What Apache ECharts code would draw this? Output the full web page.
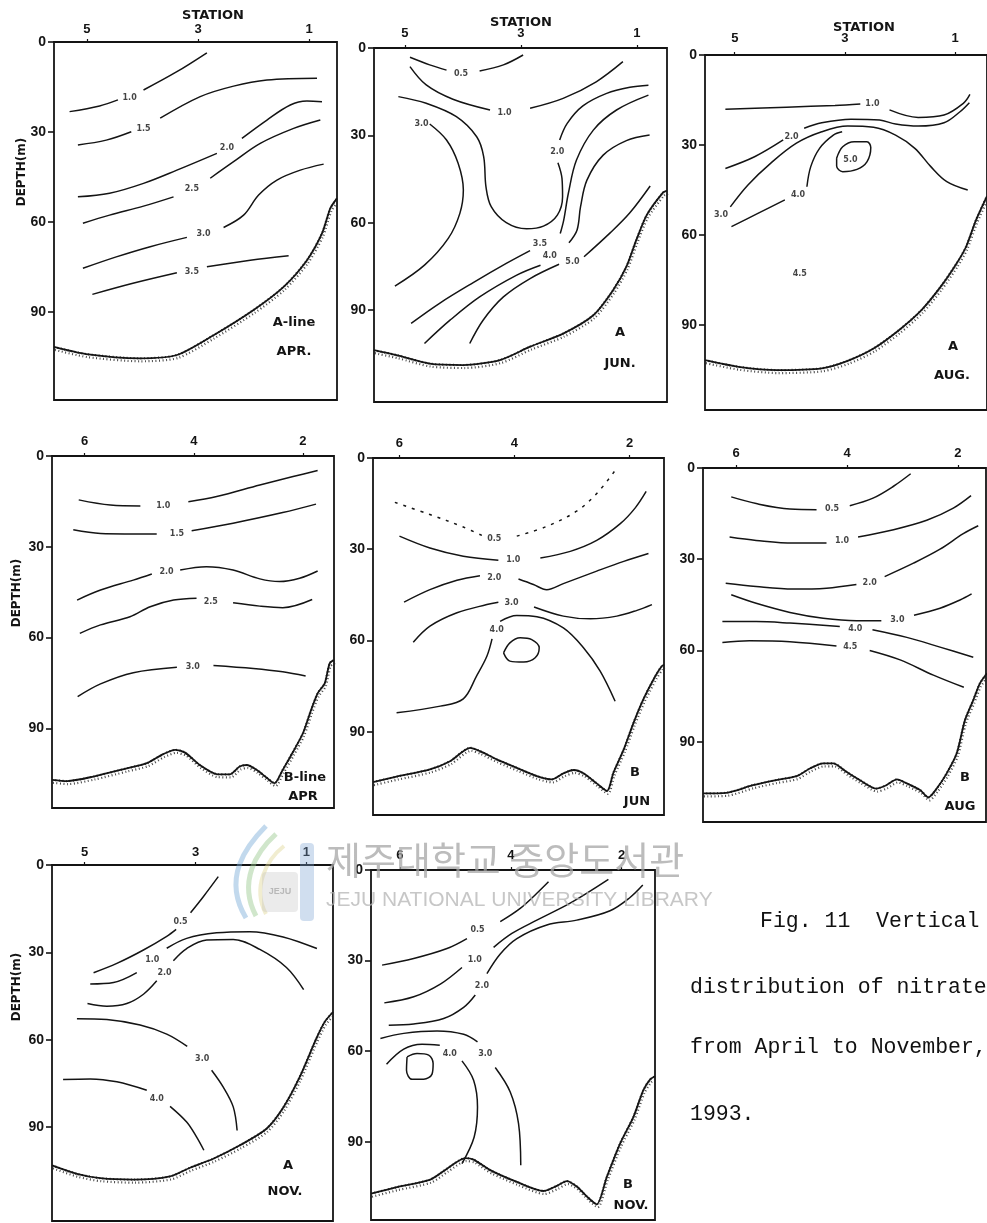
<!DOCTYPE html>
<html>
<head>
<meta charset="utf-8">
<script src="https://cdn.jsdelivr.net/npm/echarts@6/dist/echarts.min.js"></script>
<style>
  html, body { margin: 0; padding: 0; background: #fff; }
  #chart { width: 987px; height: 1223px; }
</style>
</head>
<body>
<div id="chart"></div>
<script>
// Tick positions: stations along the top edge, depth (m) down the left edge
const stationsA = [5, 3, 1];
const stationsB = [6, 4, 2];
const depthTicks = [0, 30, 60, 90];

// Nitrate isolines for each section: value, where its label sits [station, depth],
// and the pieces of the line on either side of that label.
const aApr = [
  { v: '1.0', at: [4.23, 18.8], segs: [[[5.31,23.2],[4.77,21.3],[4.44,19.3]], [[3.98,16.0],[3.38,9.9],[2.84,3.6]]] },
  { v: '1.5', at: [3.98, 28.8], segs: [[[5.16,34.3],[4.65,32.7],[4.20,29.9]], [[3.68,25.4],[2.96,18.2],[2.36,14.7],[1.76,12.7],[0.86,12.1]]] },
  { v: '2.0', at: [2.48, 35.4], segs: [[[5.16,51.6],[4.59,50.4],[3.98,47.1],[3.38,42.7],[2.66,37.1]], [[2.21,32.1],[1.76,26.0],[1.34,21.0],[1.04,19.7],[0.77,19.9]]] },
  { v: '2.5', at: [3.11, 48.8], segs: [[[5.07,60.4],[4.59,57.7],[3.98,54.7],[3.44,51.6]], [[2.78,45.4],[2.36,39.9],[1.88,33.8],[1.28,28.8],[0.80,26.0]]] },
  { v: '3.0', at: [2.90, 63.8], segs: [[[5.07,75.4],[4.47,71.6],[3.86,68.2],[3.20,65.1]], [[2.54,61.8],[2.18,57.7],[1.91,51.0],[1.58,46.0],[1.16,42.7],[0.74,40.7]]] },
  { v: '3.5', at: [3.11, 76.6], segs: [[[4.90,84.1],[4.17,80.4],[3.38,76.9]], [[2.84,74.9],[2.06,72.7],[1.37,71.2]]] }
];
const aAprBottom = [[5.59,101.6],[5.01,104.0],[4.05,105.4],[3.38,104.3],[2.72,97.7],[2.00,89.3],[1.46,81.6],[1.04,72.7],[0.77,63.8],[0.62,55.4],[0.50,52.1]];

const aJun = [
  { v: '0.5', at: [4.03, 8.9], segs: [[[4.91,3.2],[4.57,5.8],[4.28,7.6]], [[3.71,7.9],[3.30,5.8],[2.96,2.4]]] },
  { v: '1.0', at: [3.28, 22.2], segs: [[[4.91,6.4],[4.63,12.7],[4.17,17.6],[3.53,21.3]], [[2.84,20.7],[2.27,17.3],[1.70,11.6],[1.24,4.7]]] },
  { v: '2.0', at: [2.37, 35.6], segs: [[[5.11,16.7],[4.63,19.0],[4.11,23.6],[3.76,30.5],[3.64,37.3],[3.60,47.7],[3.51,54.5],[3.25,60.0],[2.90,62.1],[2.61,61.2],[2.37,57.4],[2.28,51.1],[2.29,44.8],[2.36,39.4]], [[2.33,31.6],[2.20,25.9],[1.93,19.9],[1.52,15.6],[1.12,13.5],[0.80,12.8]]] },
  { v: '3.0', at: [4.71, 26.1], segs: [[[4.57,26.1],[4.28,31.6],[4.08,39.6],[3.99,48.8],[4.05,56.8],[4.25,65.4],[4.66,74.6],[5.17,81.8]]] },
  { v: '3.5', at: [2.67, 67.4], segs: [[[4.89,94.6],[4.40,87.7],[3.82,80.6],[3.25,74.0],[2.84,69.6]], [[2.32,63.7],[2.26,59.1],[2.18,49.9],[2.04,38.5],[1.75,28.2],[1.35,21.3],[0.80,16.2]]] },
  { v: '4.0', at: [2.50, 71.5], segs: [[[4.66,101.5],[4.22,93.5],[3.71,85.5],[3.07,78.0],[2.66,74.6]], [[2.17,66.9],[2.03,62.5],[1.97,54.5],[1.86,45.4],[1.58,36.8],[1.18,31.8],[0.78,29.9]]] },
  { v: '5.0', at: [2.11, 73.5], segs: [[[3.88,101.5],[3.65,93.5],[3.30,85.5],[2.84,79.2],[2.34,74.3]], [[1.91,71.7],[1.46,63.5],[1.12,56.6],[0.77,47.4]]] }
];
const aJunBottom = [[5.53,103.8],[5.14,105.5],[4.57,108.4],[3.99,108.9],[3.36,107.2],[2.84,102.6],[2.27,98.1],[1.75,91.8],[1.41,83.2],[1.18,75.1],[1.01,66.0],[0.83,57.4],[0.55,49.7],[0.48,49.0]];

const aAug = [
  { v: '1.0', at: [2.50, 16.3], segs: [[[5.17,18.1],[4.06,17.4],[3.18,16.8],[2.72,16.3]], [[2.19,18.3],[1.67,20.8],[1.20,20.0],[0.85,16.1],[0.73,13.1]]] },
  { v: '2.0', at: [3.97, 27.2], segs: [[[5.17,37.8],[4.64,33.9],[4.12,28.3]], [[3.74,24.4],[3.42,22.6],[2.89,21.4],[2.37,21.7],[2.08,23.0],[1.67,23.7],[1.20,22.6],[0.91,18.9],[0.74,15.9]]] },
  { v: '3.0', at: [5.25, 53.3], segs: [[[5.08,50.6],[4.76,43.3],[4.35,36.1],[3.88,29.4],[3.42,25.6],[2.95,23.7],[2.48,24.1],[2.08,26.7],[1.73,31.1],[1.44,37.2],[1.15,42.2],[0.77,45.0]]] },
  { v: '4.0', at: [3.85, 46.7], segs: [[[5.06,57.2],[4.58,52.8],[4.09,48.3]], [[3.69,43.9],[3.62,37.2],[3.46,31.1],[3.21,26.7],[3.05,25.6]]] },
  { v: '5.0', at: [2.90, 34.8], segs: [[[3.15,34.4],[3.04,30.6],[2.83,28.9],[2.60,28.9],[2.53,30.8],[2.60,35.6],[2.78,38.1],[3.04,38.9],[3.15,37.0],[3.15,34.4]]] },
  { v: '4.5', at: [3.82, 72.8], segs: [] }
];
const aAugBottom = [[5.54,101.7],[4.93,103.9],[4.23,105.0],[3.42,104.4],[2.95,101.9],[2.48,97.8],[2.02,91.7],[1.61,85.0],[1.26,77.2],[0.97,69.4],[0.80,63.9],[0.62,55.0],[0.42,47.0]];

const bApr = [
  { v: '1.0', at: [4.56, 16.5], segs: [[[6.11,14.5],[5.53,16.2],[4.98,16.5]], [[4.10,15.1],[3.58,13.4],[2.79,9.6],[2.18,6.8],[1.73,4.8]]] },
  { v: '1.5', at: [4.31, 25.8], segs: [[[6.21,24.4],[5.71,25.6],[4.68,25.8]], [[4.04,24.7],[3.28,22.2],[2.37,18.7],[1.76,15.9]]] },
  { v: '2.0', at: [4.50, 38.2], segs: [[[6.14,47.6],[5.71,44.3],[5.11,41.0],[4.77,39.0]], [[4.25,37.7],[3.77,36.6],[3.28,37.7],[2.79,40.6],[2.43,41.5],[2.06,40.4],[1.73,38.0]]] },
  { v: '2.5', at: [3.69, 48.1], segs: [[[6.09,58.6],[5.71,55.8],[5.17,53.1],[4.80,49.8],[4.37,47.6],[3.95,47.0]], [[3.28,48.5],[2.79,49.6],[2.37,50.1],[1.83,47.4]]] },
  { v: '3.0', at: [4.02, 69.6], segs: [[[6.13,79.5],[5.71,75.3],[5.11,71.6],[4.31,69.8]], [[3.64,69.2],[2.91,70.2],[2.37,71.3],[1.95,72.7]]] }
];
const bAprBottom = [[6.60,107.0],[6.32,107.4],[5.84,105.9],[5.23,103.2],[4.86,101.5],[4.56,98.5],[4.34,97.1],[4.16,98.0],[3.89,102.1],[3.58,105.1],[3.34,105.2],[3.16,102.6],[3.03,102.1],[2.85,103.7],[2.67,106.2],[2.52,108.1],[2.37,103.7],[2.18,97.7],[2.00,91.6],[1.85,83.9],[1.73,78.4],[1.60,75.1],[1.51,68.5],[1.43,67.4]];

const bJun = [
  { v: '0.5', at: [4.35, 26.6], dashed: true, segs: [[[6.08,14.6],[5.47,18.6],[4.89,22.7],[4.54,25.7]], [[3.96,25.7],[3.44,22.5],[2.92,17.5],[2.57,11.7],[2.25,4.1]]] },
  { v: '1.0', at: [4.02, 33.6], segs: [[[6.00,25.7],[5.47,29.6],[4.89,32.3],[4.28,33.6]], [[3.55,32.9],[3.03,30.7],[2.57,27.1],[2.16,21.6],[1.90,16.4],[1.71,11.0]]] },
  { v: '2.0', at: [4.35, 39.4], segs: [[[5.92,47.4],[5.47,43.3],[5.00,40.2],[4.60,38.7]], [[3.93,39.8],[3.67,41.6],[3.44,43.3],[3.15,41.3],[2.57,37.2],[2.10,34.0],[1.67,31.4]]] },
  { v: '3.0', at: [4.05, 47.6], segs: [[[5.76,60.6],[5.47,55.3],[5.00,50.9],[4.48,48.2],[4.28,47.4]], [[3.66,49.0],[3.15,52.0],[2.68,52.9],[2.22,52.0],[1.87,50.1],[1.61,48.2]]] },
  { v: '4.0', at: [4.31, 56.6], segs: [[[6.05,83.8],[5.29,81.6],[4.89,79.2],[4.66,71.7],[4.48,65.2],[4.39,59.5]], [[4.25,53.7],[3.96,51.8],[3.61,52.2],[3.15,55.9],[2.80,62.4],[2.51,70.1],[2.25,80.0]]] },
  { v: '', at: null, segs: [[[4.19,64.1],[4.08,60.8],[3.90,59.1],[3.70,59.7],[3.57,62.4],[3.64,65.7],[3.84,67.1],[4.08,66.8],[4.19,64.1]]] }
];
const bJunBottom = [[6.46,106.6],[6.05,104.8],[5.47,102.4],[5.12,99.7],[4.77,95.3],[4.60,96.4],[4.31,99.1],[3.96,101.9],[3.61,104.6],[3.35,105.7],[3.15,103.7],[2.97,102.6],[2.80,103.7],[2.57,107.0],[2.39,109.5],[2.28,103.5],[2.10,95.8],[1.93,87.1],[1.76,79.4],[1.55,71.7],[1.44,68.5],[1.40,68.0]];

const bAug = [
  { v: '0.5', at: [4.27, 13.5], segs: [[[6.09,9.5],[5.64,11.7],[5.03,13.5],[4.55,13.7]], [[3.95,12.4],[3.53,9.9],[3.16,6.0],[2.85,1.9]]] },
  { v: '1.0', at: [4.09, 24.1], segs: [[[6.12,22.7],[5.64,23.8],[4.97,24.7],[4.37,24.7]], [[3.80,22.7],[3.16,20.3],[2.56,17.2],[2.08,13.2],[1.76,9.1]]] },
  { v: '2.0', at: [3.59, 37.9], segs: [[[6.19,37.9],[5.64,39.0],[4.97,39.8],[4.37,39.5],[3.83,38.3]], [[3.32,35.7],[2.80,31.3],[2.32,26.7],[1.90,21.6],[1.63,19.0]]] },
  { v: '3.0', at: [3.09, 49.9], segs: [[[6.09,41.7],[5.64,44.5],[5.03,47.5],[4.43,49.4],[3.83,50.2],[3.38,50.2]], [[2.79,48.4],[2.32,46.1],[1.96,43.4],[1.75,41.4]]] },
  { v: '4.0', at: [3.85, 52.8], segs: [[[6.25,50.5],[5.64,50.5],[5.03,51.0],[4.13,52.1]], [[3.54,53.2],[2.92,55.7],[2.32,58.9],[1.72,62.2]]] },
  { v: '4.5', at: [3.94, 58.7], segs: [[[6.25,57.4],[5.76,56.8],[5.03,57.1],[4.19,58.5]], [[3.59,60.0],[3.04,63.1],[2.44,68.1],[1.89,72.1]]] }
];
const bAugBottom = [[6.60,107.0],[6.18,106.8],[5.70,104.3],[5.28,102.6],[4.91,101.3],[4.67,98.8],[4.43,97.1],[4.25,97.1],[4.01,99.9],[3.77,102.6],[3.47,105.4],[3.29,104.3],[3.10,102.4],[2.92,103.7],[2.68,105.9],[2.53,108.3],[2.38,105.4],[2.20,100.4],[2.02,93.9],[1.87,82.9],[1.72,76.3],[1.60,70.8],[1.47,67.5]];

const aNov = [
  { v: '0.5', at: [3.27, 19.6], segs: [[[4.84,37.0],[4.42,33.8],[3.94,29.2],[3.52,24.5],[3.35,22.1]], [[3.09,16.4],[2.86,10.9],[2.59,4.0]]] },
  { v: '1.0', at: [3.78, 32.5], segs: [[[4.90,40.9],[4.48,40.4],[4.06,37.0]], [[3.52,28.6],[3.16,25.2],[2.62,23.3],[2.02,22.9],[1.42,24.7],[0.81,28.7]]] },
  { v: '2.0', at: [3.56, 37.0], segs: [[[4.95,47.6],[4.60,48.5],[4.24,47.6],[3.94,44.4],[3.70,39.8]], [[3.40,32.9],[3.16,28.7],[2.80,25.8],[2.32,25.6],[1.84,29.0],[1.36,35.2],[1.05,42.8]]] },
  { v: '3.0', at: [2.88, 66.7], segs: [[[5.14,52.8],[4.60,53.1],[4.00,55.0],[3.52,58.1],[3.15,62.3]], [[2.71,70.5],[2.50,76.3],[2.32,83.1],[2.25,91.2]]] },
  { v: '4.0', at: [3.70, 80.3], segs: [[[5.39,73.7],[4.90,73.5],[4.42,74.5],[3.88,77.4]], [[3.46,82.9],[3.16,88.3],[2.98,93.5],[2.85,98.0]]] }
];
const aNovBottom = [[5.59,103.2],[5.14,106.1],[4.72,107.6],[4.12,108.1],[3.46,107.0],[3.10,104.0],[2.68,100.9],[2.20,96.3],[1.72,90.6],[1.42,83.4],[1.12,72.8],[0.82,59.6],[0.67,53.9],[0.52,50.5]];

const bNov = [
  { v: '0.5', at: [4.60, 19.9], segs: [[[6.32,31.5],[5.75,29.3],[5.15,26.0],[4.79,22.7]], [[4.19,17.1],[3.83,12.7],[3.53,7.7],[3.32,3.9]]] },
  { v: '1.0', at: [4.65, 29.8], segs: [[[6.28,44.0],[5.75,42.0],[5.27,37.8],[4.88,32.3]], [[4.31,25.6],[3.98,21.0],[3.53,16.6],[2.93,11.0],[2.24,3.1]]] },
  { v: '2.0', at: [4.52, 38.5], segs: [[[6.20,51.4],[5.75,51.0],[5.21,49.2],[4.85,45.5],[4.64,41.4]], [[4.43,34.3],[4.19,27.8],[3.89,22.7],[3.35,18.2],[2.81,16.6],[2.21,13.5],[1.85,9.1],[1.62,5.0]]] },
  { v: '3.0', at: [4.46, 60.8], segs: [[[6.35,55.8],[5.93,54.1],[5.33,53.3],[4.85,54.4],[4.60,56.9]], [[4.28,65.4],[4.01,73.5],[3.86,84.0],[3.82,97.8]]] },
  { v: '4.0', at: [5.10, 61.0], segs: [[[6.24,64.3],[5.93,59.3],[5.60,57.7],[5.28,58.0]], [[4.88,63.2],[4.67,69.6],[4.60,78.5],[4.66,88.4],[4.88,97.2]]] },
  { v: '', at: null, segs: [[[5.87,61.9],[5.69,60.8],[5.48,61.3],[5.40,64.1],[5.42,67.6],[5.57,69.3],[5.78,69.3],[5.88,66.3],[5.87,61.9]]] }
];
const bNovBottom = [[6.52,107.2],[6.05,105.0],[5.45,102.5],[5.15,98.9],[4.82,95.4],[4.67,95.9],[4.37,99.4],[3.89,103.3],[3.41,106.3],[3.17,104.6],[2.99,103.0],[2.81,104.8],[2.63,108.1],[2.45,110.7],[2.27,101.7],[2.03,90.6],[1.79,81.8],[1.61,72.9],[1.49,69.4],[1.40,68.3]];

// Page layout of the eight sections (pixel boxes, station range, depth range)
const INK = '#141414';
const sections = [
  { lines: aApr, bottom: aAprBottom, stations: stationsA, box: [54, 42, 283, 358],  xr: [0.50, 5.59], depthMax: 119.3, gap: 6,
    notes: [['A-line', 294, 323], ['APR.', 294, 352]] },
  { lines: aJun, bottom: aJunBottom, stations: stationsA, box: [374, 48, 293, 354], xr: [0.48, 5.53], depthMax: 121.6, gap: 8,
    notes: [['A', 620, 333], ['JUN.', 620, 364]] },
  { lines: aAug, bottom: aAugBottom, stations: stationsA, box: [705, 55, 293, 355], xr: [0.42, 5.54], depthMax: 118.3, gap: 10,
    notes: [['A', 953, 347], ['AUG.', 952, 376]] },
  { lines: bApr, bottom: bAprBottom, stations: stationsB, box: [52, 456, 282, 352], xr: [1.43, 6.60], depthMax: 116.3, gap: 8,
    notes: [['B-line', 305, 778], ['APR', 303, 797]] },
  { lines: bJun, bottom: bJunBottom, stations: stationsB, box: [373, 458, 291, 357], xr: [1.40, 6.46], depthMax: 117.4, gap: 8,
    notes: [['B', 635, 773], ['JUN', 637, 802]] },
  { lines: bAug, bottom: bAugBottom, stations: stationsB, box: [703, 468, 283, 354], xr: [1.49, 6.60], depthMax: 116.4, gap: 8,
    notes: [['B', 965, 778], ['AUG', 960, 807]] },
  { lines: aNov, bottom: aNovBottom, stations: stationsA, box: [52, 865, 281, 356], xr: [0.52, 5.59], depthMax: 122.3, gap: 6,
    notes: [['A', 288, 1166], ['NOV.', 285, 1192]] },
  { lines: bNov, bottom: bNovBottom, stations: stationsB, box: [371, 870, 284, 350], xr: [1.40, 6.52], depthMax: 115.9, gap: 8,
    notes: [['B', 628, 1185], ['NOV.', 631, 1206]] }
];

const grid = [], xAxis = [], yAxis = [], series = [];
const graphic = [];

sections.forEach((s, i) => {
  grid.push({
    left: s.box[0], top: s.box[1], width: s.box[2], height: s.box[3],
    show: true, borderColor: INK, borderWidth: 1.8, backgroundColor: 'transparent'
  });
  xAxis.push({
    gridIndex: i, type: 'value', position: 'top', inverse: true,
    min: s.xr[0], max: s.xr[1],
    axisLine: { show: false }, splitLine: { show: false },
    axisTick: { show: true, length: 3, customValues: s.stations, lineStyle: { color: INK, width: 1.2 } },
    axisLabel: { show: true, customValues: s.stations, margin: s.gap, color: INK,
                 fontSize: 13, fontWeight: 'bold', fontFamily: 'Liberation Sans' }
  });
  yAxis.push({
    gridIndex: i, type: 'value', inverse: true, min: 0, max: s.depthMax,
    axisLine: { show: false }, splitLine: { show: false },
    axisTick: { show: true, length: 6, customValues: depthTicks, lineStyle: { color: INK, width: 1.6 } },
    axisLabel: { show: true, customValues: depthTicks, margin: 8, color: INK,
                 fontSize: 14, fontWeight: 'bold', fontFamily: 'Liberation Sans' }
  });

  // isolines
  s.lines.forEach(c => {
    c.segs.forEach(seg => {
      series.push({
        type: 'line', xAxisIndex: i, yAxisIndex: i, data: seg,
        smooth: 0.35, symbol: 'none', silent: true, clip: true,
        lineStyle: { color: INK, width: 1.5, type: c.dashed ? [3, 6] : 'solid' }
      });
    });
  });

  // isoline value labels
  series.push({
    type: 'scatter', xAxisIndex: i, yAxisIndex: i, silent: true,
    symbol: 'circle', symbolSize: 1, itemStyle: { color: 'rgba(0,0,0,0)' },
    data: s.lines.filter(c => c.at).map(c => ({ name: c.v, value: c.at })),
    label: { show: true, position: 'inside', formatter: '{b}', color: INK,
             fontSize: 8, fontWeight: 'bold', fontFamily: 'DejaVu Sans' }
  });

  // sea bottom: stippled band under a solid profile line
  series.push({
    type: 'line', xAxisIndex: i, yAxisIndex: i, data: s.bottom,
    smooth: 0.25, symbol: 'none', silent: true, clip: true,
    lineStyle: { color: '#3a3a3a', width: 2.2, type: [1, 2.5],
                 shadowColor: 'rgba(40,40,40,0.85)', shadowOffsetY: 3, shadowOffsetX: 1, shadowBlur: 0 }
  });
  series.push({
    type: 'line', xAxisIndex: i, yAxisIndex: i, data: s.bottom,
    smooth: 0.25, symbol: 'none', silent: true, clip: true,
    lineStyle: { color: INK, width: 1.8 }
  });

  s.notes.forEach(n => {
    graphic.push({
      type: 'text', x: n[1], y: n[2], z: 50,
      style: { text: n[0], fill: INK, fontSize: 13, fontWeight: 'bold', fontFamily: 'DejaVu Sans',
               textAlign: 'center', textVerticalAlign: 'middle' }
    });
  });
});

// Axis titles
[[213, 16], [521, 23], [864, 28]].forEach(p => {
  graphic.push({
    type: 'text', x: p[0], y: p[1], z: 50,
    style: { text: 'STATION', fill: INK, fontSize: 13, fontWeight: 'bold', fontFamily: 'DejaVu Sans',
             textAlign: 'center', textVerticalAlign: 'middle' }
  });
});
[[22, 172], [17, 593], [17, 987]].forEach(p => {
  graphic.push({
    type: 'text', x: p[0], y: p[1], rotation: Math.PI / 2, z: 50,
    style: { text: 'DEPTH(m)', fill: INK, fontSize: 12, fontWeight: 'bold', fontFamily: 'DejaVu Sans',
             textAlign: 'center', textVerticalAlign: 'middle' }
  });
});

// Figure caption
const captionFont = { fill: '#111', fontSize: 21.5, fontFamily: 'Liberation Mono', textVerticalAlign: 'middle' };
[['Fig. 11  Vertical', 760, 921], ['distribution of nitrate', 690, 987],
 ['from April to November,', 690, 1047], ['1993.', 690, 1114]].forEach(t => {
  graphic.push({ type: 'text', x: t[1], y: t[2], z: 50, style: Object.assign({ text: t[0] }, captionFont) });
});

// Library watermark
graphic.push(
  { type: 'bezierCurve', z: 90, shape: { x1: 246, y1: 918, cpx1: 222, cpy1: 878, cpx2: 246, cpy2: 846, x2: 266, y2: 826 },
    style: { stroke: 'rgba(120,170,215,0.45)', lineWidth: 5, fill: null } },
  { type: 'bezierCurve', z: 90, shape: { x1: 256, y1: 916, cpx1: 238, cpy1: 882, cpx2: 256, cpy2: 852, x2: 276, y2: 834 },
    style: { stroke: 'rgba(150,200,140,0.45)', lineWidth: 5, fill: null } },
  { type: 'bezierCurve', z: 90, shape: { x1: 266, y1: 914, cpx1: 252, cpy1: 888, cpx2: 266, cpy2: 860, x2: 284, y2: 846 },
    style: { stroke: 'rgba(225,215,150,0.45)', lineWidth: 4, fill: null } },
  { type: 'rect', z: 90, shape: { x: 300, y: 843, width: 14, height: 78, r: 4 },
    style: { fill: 'rgba(120,160,210,0.35)' } },
  { type: 'rect', z: 90, shape: { x: 262, y: 872, width: 36, height: 40, r: 4 },
    style: { fill: 'rgba(190,190,190,0.3)' } },
  { type: 'text', x: 280, y: 892, z: 91,
    style: { text: 'JEJU', fill: 'rgba(150,150,150,0.6)', fontSize: 9, fontWeight: 'bold', fontFamily: 'Liberation Sans',
             textAlign: 'center', textVerticalAlign: 'middle' } },
  { type: 'text', x: 326, y: 860, z: 90,
    style: { text: '제주대학교 중앙도서관', fill: 'rgba(165,165,165,0.75)', fontSize: 38,
             fontFamily: 'Noto Sans CJK KR', textVerticalAlign: 'middle' } },
  { type: 'text', x: 326, y: 900, z: 90,
    style: { text: 'JEJU NATIONAL UNIVERSITY LIBRARY', fill: 'rgba(180,180,180,0.75)', fontSize: 21,
             fontFamily: 'Liberation Sans', textVerticalAlign: 'middle' } }
);

const chart = echarts.init(document.getElementById('chart'), null, { renderer: 'canvas' });
chart.setOption({
  backgroundColor: '#ffffff',
  animation: false,
  grid, xAxis, yAxis, series, graphic
});
</script>
</body>
</html>
